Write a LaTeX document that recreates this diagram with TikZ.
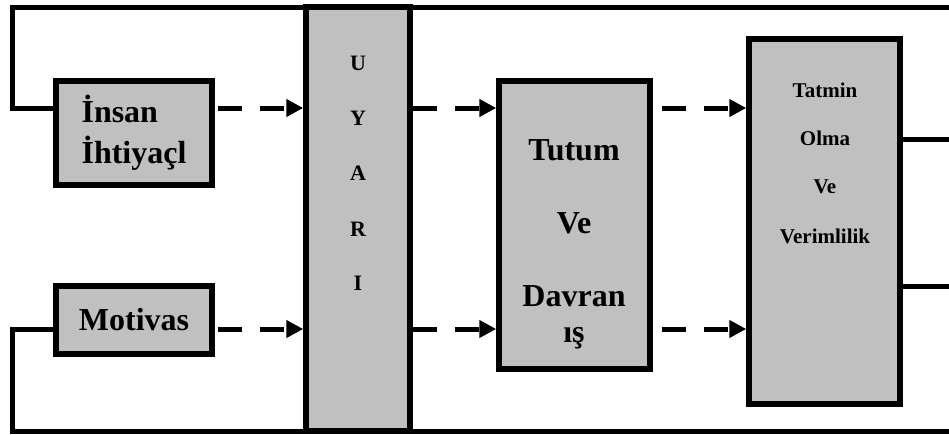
\documentclass[tikz,border=0pt]{standalone}
\usepackage{fontspec}
\setmainfont{Liberation Serif}
\usetikzlibrary{arrows.meta}
\definecolor{boxgray}{RGB}{192,192,192}
\begin{document}
\begin{tikzpicture}[x=1pt,y=-1pt,
  box/.style={draw, line width=5.5pt, fill=boxgray, inner sep=0pt},
  conn/.style={line width=5pt, line join=miter},
  dasharrow/.style={line width=5pt, dash pattern=on 24pt off 18pt, -{Triangle[length=17pt,width=17pt]}},
  big/.style={font=\fontsize{32}{41}\selectfont\bfseries, inner sep=0pt},
  mid/.style={font=\fontsize{21}{25}\selectfont\bfseries, inner sep=0pt},
  let/.style={font=\fontsize{22}{25}\selectfont\bfseries, inner sep=0pt, anchor=base}]
\useasboundingbox (0,0) rectangle (949,434);
% coordinates
\coordinate (tl) at (12,7.5);
\coordinate (tr) at (949,7.5);
\coordinate (bl) at (12,431);
\coordinate (br) at (949,431);
\coordinate (r1) at (949,139);
\coordinate (r2) at (949,286);
\coordinate (ya) at (0,108);
\coordinate (yb) at (0,329);
% boxes
\node[box, minimum width=156pt, minimum height=104pt, align=left, font=\fontsize{32}{41}\selectfont\bfseries] (ins) at (134,133) {İnsan\\İhtiyaçl};
\node[box, minimum width=156pt, minimum height=68pt, font=\fontsize{32}{41}\selectfont\bfseries] (mot) at (134,320) {Motivas};
% frame lines
\draw[conn] (ins.west |- ya) -| (tl) -- (tr);
\draw[conn] (mot.west |- yb) -| (bl) -- (br);
\node[box, minimum width=104pt, minimum height=424pt] (uy) at (358,219) {};
\node[box, minimum width=151pt, minimum height=288pt] (tut) at (574.5,225) {};
\node[box, minimum width=151pt, minimum height=365pt] (tat) at (824.5,221.5) {};
% UYARI letters
\node[let] (u1) at (358,70) {U};
\node[let] (u2) at (358,125) {Y};
\node[let] (u3) at (358,180) {A};
\node[let] (u4) at (358,236) {R};
\node[let] (u5) at (358,290) {I};
% Tutum texts
\node[big, anchor=base] (t1) at (574,160) {Tutum};
\node[big, anchor=base] (t2) at (574,233) {Ve};
\node[big, anchor=base] (t3) at (574,306) {Davran};
\node[big, anchor=base] (t4) at (574,342) {ış};
% Tatmin texts
\node[mid, anchor=base] (s1) at (825,97) {Tatmin};
\node[mid, anchor=base] (s2) at (825,145) {Olma};
\node[mid, anchor=base] (s3) at (825,193) {Ve};
\node[mid, anchor=base] (s4) at (825,243) {Verimlilik};
% arrows
\draw[dasharrow, shorten <=3pt] (ins.east |- ya) -- (uy.west |- ya);
\draw[dasharrow, shorten <=3pt] (mot.east |- yb) -- (uy.west |- yb);
\draw[dasharrow] (uy.east |- ya) -- (tut.west |- ya);
\draw[dasharrow] (uy.east |- yb) -- (tut.west |- yb);
\draw[dasharrow, shorten <=9pt] (tut.east |- ya) -- (tat.west |- ya);
\draw[dasharrow, shorten <=9pt] (tut.east |- yb) -- (tat.west |- yb);
% right outputs
\draw[conn] (tat.east |- r1) -- (r1);
\draw[conn] (tat.east |- r2) -- (r2);
\end{tikzpicture}
\end{document}
